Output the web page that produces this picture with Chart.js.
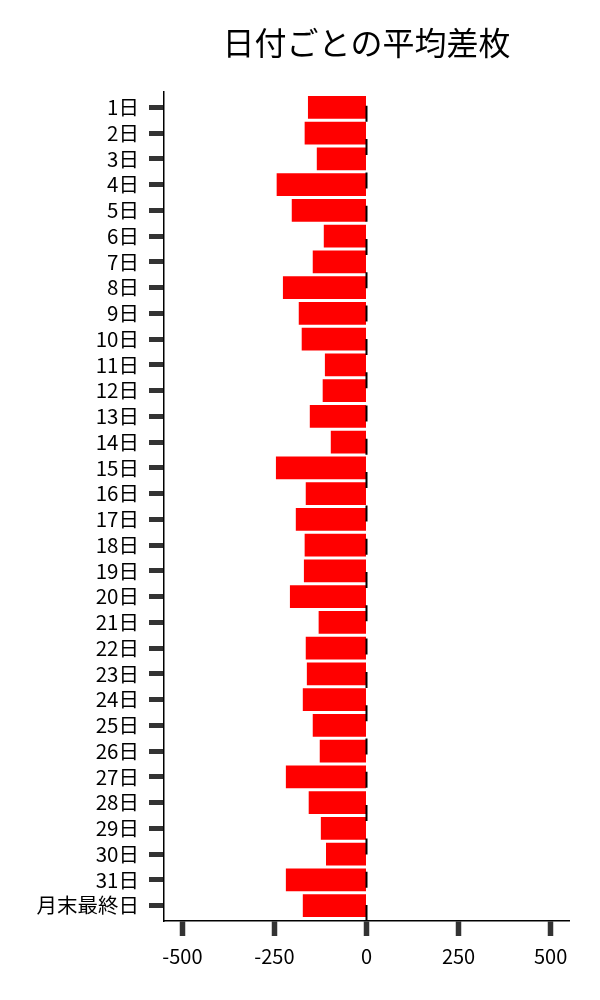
<!DOCTYPE html>
<html>
<head>
<meta charset="utf-8">
<script src="https://cdn.jsdelivr.net/npm/chart.js@4"></script>
<style>
html,body{margin:0;padding:0;background:#fff;}
#wrap{width:600px;height:1000px;}
</style>
</head>
<body>
<div id="wrap"><canvas id="c" width="600" height="1000"></canvas></div>
<script>
const chartTitle = "日付ごとの平均差枚";
const dayLabels = ["1日","2日","3日","4日","5日","6日","7日","8日","9日","10日","11日","12日","13日","14日","15日","16日","17日","18日","19日","20日","21日","22日","23日","24日","25日","26日","27日","28日","29日","30日","31日","月末最終日"];
const avgDiff = [-159,-168,-135,-244,-203,-116,-146,-227,-184,-176,-113,-119,-154,-97,-246,-165,-192,-168,-170,-208,-130,-165,-162,-173,-146,-127,-219,-157,-124,-110,-219,-173];
const xTickValues = [-500,-250,0,250,500];
const refLineValue = 0;

const FONT = '"Noto Sans CJK JP", "Noto Sans", sans-serif';

const zeroLine = {
  id: 'zeroLine',
  afterDatasetsDraw(chart) {
    const {ctx, chartArea, scales} = chart;
    const x = scales.x.getPixelForValue(refLineValue);
    ctx.save();
    ctx.strokeStyle = '#000';
    ctx.lineWidth = 2;
    ctx.setLineDash([16, 17.3]);
    ctx.beginPath();
    ctx.moveTo(x, chartArea.bottom);
    ctx.lineTo(x, chartArea.top);
    ctx.stroke();
    ctx.restore();
  }
};

new Chart(document.getElementById('c'), {
  type: 'bar',
  data: {
    datasets: [{
      data: avgDiff.map((v, i) => ({x: v, y: i})),
      backgroundColor: '#ff0000',
      borderWidth: 0,
      categoryPercentage: 1,
      barPercentage: 0.88
    }]
  },
  options: {
    indexAxis: 'y',
    responsive: false,
    animation: false,
    layout: {padding: {left: 0, right: 31, top: 0, bottom: 29}},
    plugins: {
      legend: {display: false},
      tooltip: {enabled: false},
      title: {
        display: true,
        text: chartTitle,
        fullSize: false,
        color: '#000',
        font: {family: FONT, size: 32, weight: 'normal', lineHeight: 1.2},
        padding: {top: 24, bottom: 29.6}
      }
    },
    scales: {
      x: {
        type: 'linear',
        min: -550,
        max: 550,
        afterBuildTicks(scale) { scale.ticks = xTickValues.map(v => ({value: v})); },
        ticks: {
          color: '#000',
          font: {family: FONT, size: 20},
          padding: 8,
          includeBounds: false
        },
        grid: {drawOnChartArea: false, tickLength: 15, tickWidth: 5.5, tickColor: '#333'},
        border: {display: true, color: '#000', width: 1.5},
        afterFit(scale) { scale.height = 50; }
      },
      y: {
        type: 'linear',
        reverse: true,
        offset: false,
        min: -0.6,
        max: 31.6,
        afterBuildTicks(scale) { scale.ticks = dayLabels.map((_, i) => ({value: i})); },
        ticks: {
          autoSkip: false,
          color: '#000',
          font: {family: FONT, size: 20.5},
          padding: 10,
          includeBounds: false,
          callback: (v) => dayLabels[v] !== undefined ? dayLabels[v] : ''
        },
        grid: {offset: false, drawOnChartArea: false, tickLength: 15, tickWidth: 5, tickColor: '#333'},
        border: {display: true, color: '#000', width: 1.5},
        afterFit(scale) { scale.width = 164; }
      }
    }
  },
  plugins: [zeroLine]
});
</script>
</body>
</html>
